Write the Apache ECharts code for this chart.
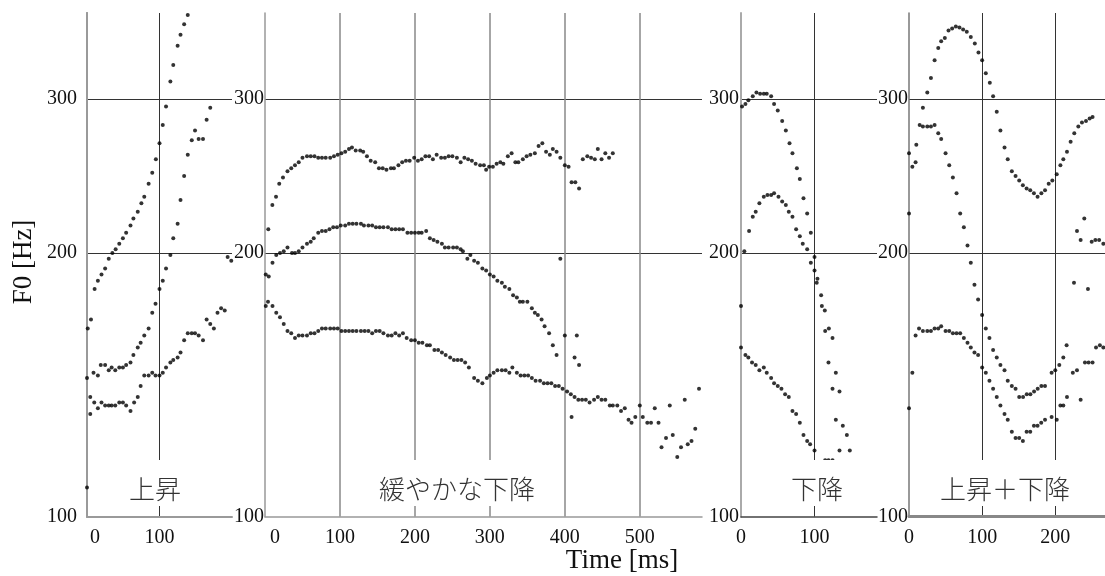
<!DOCTYPE html>
<html><head><meta charset="utf-8">
<script src="https://cdn.jsdelivr.net/npm/echarts@6/dist/echarts.min.js"></script>
<style>html,body{margin:0;padding:0;background:#fff}#c{width:1105px;height:576px}</style>
</head><body><div id="c"></div>
<script>
// ---- tick labels ----
const yTickLabels = [100, 200, 300];
const yGridValues = [200, 300];
const xTicksP1 = [0, 100];
const xTicksP2 = [0, 100, 200, 300, 400, 500];
const xTicksP3 = [0, 100];
const xTicksP4 = [0, 100, 200];
const panelTitles = ['上昇', '緩やかな下降', '下降', '上昇＋下降'];
const yTitle = 'F0 [Hz]';
const xTitle = 'Time [ms]';

// ---- data: [time ms, F0 Hz] ----
// Panel 1: 上昇
const p1A = [[1,164],[5.5,168],[10.5,182],[15,186],[20,189],[25,192],[30,197],[35,200],[39.5,202],[44.5,205],[49.5,208],[54,211],[60,215],[64,219],[70,223],[75,228],[79,232],[85,240],[90,247],[95,256],[100,267],[104.5,280],[109,294],[115,314],[119,328],[125,345],[129,355],[134,365],[139,374]];
const p1B = [[0,144],[9,146],[15,145],[19,149],[25,149],[30,147],[34,148],[39,147],[44.5,148],[49.5,148],[54,149],[60,150],[64,153],[70,156],[74,158],[79,161],[85,164],[90,171],[94.5,175],[100,182],[104.5,186],[109,192],[115,199],[119,208],[125,216],[129,230],[134,245],[139,259],[144.5,269],[149,276],[154,270],[160,270],[165,284],[170,293]];
const p1C = [[4.5,137],[4.5,131],[10,135],[15,133],[20,135],[25,134],[30,134],[34,134],[39,134],[44.5,135],[49.5,135],[54,134],[60,132],[65,135],[70,137],[74,141],[79,145],[85,145],[90,146],[94.5,145],[100,145],[104.5,146],[109,148],[115,150],[119,151],[125,152],[129,154],[134,159],[139,162],[144.5,162],[149,162],[154,161],[160,159],[165,168],[170,166],[175,164],[180,171],[185,173],[190,172]];
const p1X = [[0,108],[194,198],[199,196]];

// Panel 2: 緩やかな下降
const p2A = [[4.4,213],[9.8,227],[14.7,232],[19,240],[24,244],[30,248],[35,250],[40,252],[45,254],[50,257],[56,258],[61,258],[66,258],[71,257],[76,257],[81,257],[87,257],[92,258],[97,259],[102,260],[107,261],[112,263],[116,264],[121,262],[127,262],[131,261],[136,258],[141,255],[147,254],[152,250],[157,250],[162,249],[168,250],[172,250],[178,252],[183,254],[188,255],[193,255],[199,257],[204,255],[209,256],[214,258],[219,258],[224,256],[229,259],[235,257],[240,257],[245,258],[250,258],[256,257],[261,254],[266,257],[271,256],[276,255],[281,253],[287,252],[292,252],[295,249],[299,251],[304,251],[309,253],[314,254],[318,253],[324,258],[329,260],[334,254],[338,254],[344,256],[349,258],[354,259],[360,260],[365,265],[370,267],[375,261],[380,259],[384,263],[389,261],[394,257],[400,252],[405,251],[409,241],[414,241],[419,237],[424,256],[430,258],[435,257],[440,256],[444,263],[449,256],[454,260],[459,257],[464,260]];
const p2B = [[1,189],[5,188],[10,195],[15,199],[20,200],[25,201],[30,203],[36,200],[40,200],[45,201],[50,203],[56,205],[61,206],[65,208],[71,211],[76,212],[81,212],[86,213],[91,214],[96,214],[101,215],[107,215],[112,216],[117,216],[122,216],[128,216],[132,215],[138,215],[143,215],[148,214],[153,214],[158,214],[164,214],[169,213],[174,213],[179,213],[184,213],[190,211],[195,211],[200,211],[205,211],[209,211],[215,212],[220,208],[225,207],[230,206],[236,205],[240,203],[245,203],[251,203],[256,203],[261,202],[264,201],[270,197],[274,199],[279,196],[284,195],[290,192],[295,191],[300,189],[305,188],[310,186],[316,185],[320,183],[326,182],[331,179],[336,178],[340,176],[344,176],[350,176],[356,173],[360,171],[364,170],[369,168],[373,165],[379,162],[384,157],[389,153]];
const p2C = [[1,174],[4,176],[10,174],[15,171],[20,169],[25,166],[30,163],[35,162],[40,160],[45,161],[50,161],[56,161],[61,162],[66,162],[71,163],[76,164],[81,164],[87,164],[92,164],[97,164],[102,163],[107,163],[112,163],[117,163],[122,163],[128,163],[133,163],[138,163],[143,162],[148,163],[153,163],[158,162],[164,161],[169,161],[174,162],[179,161],[184,162],[189,160],[195,159],[200,159],[205,158],[210,158],[216,157],[220,157],[226,155],[231,155],[236,154],[241,153],[247,152],[252,151],[257,151],[262,151],[267,150],[272,148],[279,144],[284,143],[290,142],[296,144],[300,145],[305,146],[310,147],[316,147],[321,147],[326,146],[330,148],[336,146],[341,145],[346,145],[351,145],[356,144],[361,143],[367,143],[372,142],[377,142],[382,142],[387,141],[392,141],[397,140],[403,139],[408,138],[413,137],[418,136],[423,136],[428,136],[433,135],[439,136],[444,137],[449,136],[454,136],[460,134],[464,134],[470,134],[475,132],[480,133],[485,129],[489,128],[494,130],[500,134],[504,130],[510,128],[515,128],[520,133],[525,128],[529,120],[535,123],[540,134],[544,124],[550,117],[555,120],[560,136],[564,121],[569,122],[574,126],[579,140]];
const p2X = [[394,197],[400,161],[416,161],[413,152],[419,149],[409,130]];

// Panel 3: 下降
const p3A = [[1.4,294],[6,296],[10,299],[16,302],[21,305],[26,304],[31,304],[35,304],[41,302],[45,296],[50,291],[56,283],[61,276],[66,267],[70,260],[76,250],[80,243],[85,231],[90,222],[95,211],[100,198],[104,187],[110,174],[114.5,163],[119.5,164],[124.5,160],[129,146],[134,139],[138.5,127],[144,124],[148,119]];
const p3B = [[4.5,201],[11,212],[16,220],[20,223],[25,228],[31,232],[36,233],[41,233],[45,234],[51,232],[56,229],[61,227],[65,223],[70,220],[75,213],[80,209],[84,205],[90,202],[95,195],[100,191],[103,185],[109,179],[114,172],[119,150],[124.5,140],[129,129],[134,119]];
const p3C = [[0,174],[0,156],[6,153],[10,152],[15,150],[20,149],[25,147],[31,148],[35,146],[41,144],[45,142],[50,141],[55,140],[60,138],[65,137],[70,132],[75,131],[80,128],[85,124],[90,122],[94,121],[100,119],[114.5,116],[119,116],[124.5,116]];

// Panel 4: 上昇＋下降
const p4A = [[0,260],[10,266],[14.6,280],[19,293],[25,305],[30,317],[35,332],[40,343],[44,349],[49,352],[54,359],[59,361],[64,363],[69,362],[74,360],[79,358],[84.5,353],[90,347],[95,339],[100,332],[105,321],[110.5,313],[115,302],[120,290],[125,276],[130.6,264],[135,256],[140.6,248],[145.7,245],[150.7,242],[155.7,239],[160.8,237],[165.8,236],[170.8,234],[175.8,232],[181,234],[186,236],[191,240],[196,242],[202,246],[207,252],[211,256],[216,261],[221,268],[226,274],[231.5,279],[236.5,282],[242,283],[247,285],[251,286]];
const p4B = [[4.6,251],[9,254],[19,279],[25,279],[30,279],[35,280],[40,274],[44,270],[50,260],[55,252],[60,244],[65,234],[70,222],[75,214],[80,204],[84.5,195],[89.5,184],[94.5,177],[100,170],[105,164],[110,160],[115,155],[120,152],[125,149],[130.6,147],[135,143],[140.6,141],[145.7,140],[150.7,137],[156,137],[161,138],[166,138],[171,139],[176,140],[181,141],[186,141],[195,146],[200,147],[205.5,149],[211,152],[215.5,157]];
const p4C = [[0,133],[4.6,146],[9,161],[13.7,164],[19,163],[25,163],[30,163],[35,164],[40,164],[44,165],[50,163],[55,163],[60,162],[65,162],[70,162],[75,160],[80,158],[84.5,156],[89.5,154],[94.5,153],[100,148],[105,146],[110,143],[115,140],[120,137],[125,134],[130.6,131],[135,129],[140.6,125],[145.7,123],[150.7,123],[155.7,122],[160.8,125],[165.8,125],[170.8,127],[175.8,127],[180.8,128],[186,129],[195,130],[202,129],[207,134],[211,134],[216,137]];
const p4X = [[0,222],[224,146],[229.7,147],[234.7,136],[240.6,150],[245.6,150],[251,150],[255.7,156],[261,157],[265.7,156],[229.7,212],[234.7,207],[239.7,219],[225.6,185],[244.7,182],[249.8,206],[254.8,207],[260,207],[265.7,205]];

// ---- layout / style ----
const SERIF = "'Liberation Serif','Times New Roman',serif";
const CJK = "'Noto Sans CJK JP',sans-serif";
const TOP = 13, H = 503.7, FS = 20;
const panels = [
  {left:87, width:145, xmax:200, ticks:xTicksP1, series:[p1A,p1B,p1C,p1X], vCol:'#333', vW:1, yLine:'#9a9a9a', yLineW:2, xLine:'#9a9a9a', xLineW:2, yMargin:10, yPad:[0,0,0,0], zeroPad:16, title:{cx:155, x0:120, x1:200}},
  {left:265, width:437, xmax:583, ticks:xTicksP2, series:[p2A,p2B,p2C,p2X], vCol:'#888', vW:1.5, yLine:'#999', yLineW:1.5, xLine:'#999', xLineW:1.5, yMargin:1, yPad:[8,0,0,0], zeroPad:20, title:{cx:457, x0:370, x1:545}},
  {left:741, width:136, xmax:185, ticks:xTicksP3, series:[p3A,p3B,p3C], vCol:'#333', vW:1, yLine:'#aaa', yLineW:2, xLine:'#444', xLineW:1.5, yMargin:2, yPad:[8,0,0,0], zeroPad:0, title:{cx:817, x0:785, x1:850}},
  {left:909, width:196, xmax:268, ticks:xTicksP4, series:[p4A,p4B,p4C,p4X], vCol:'#333', vW:1, yLine:'#777', yLineW:1.5, xLine:'#888', xLineW:3, yMargin:1, yPad:[8,0,0,0], zeroPad:0, title:{cx:1005, x0:930, x1:1080}}
];

const grid = [], xAxis = [], yAxis = [], series = [], graphic = [];
panels.forEach((p, i) => {
  grid.push({left:p.left, top:TOP, width:p.width, height:H, containLabel:false});
  const zp = p.zeroPad;
  xAxis.push({
    type:'value', gridIndex:i, min:0, max:p.xmax,
    axisLine:{show:true, onZero:false, lineStyle:{color:p.xLine, width:p.xLineW}},
    axisTick:{show:false, customValues:p.ticks.filter(v => v > 0)},
    axisLabel:{customValues:p.ticks, margin:11, fontFamily:SERIF, fontSize:FS, color:'#111',
      formatter: v => (v === 0 && zp) ? '{z|0}' : String(v),
      rich:{z:{padding:[0,0,0,zp], fontFamily:SERIF, fontSize:FS, color:'#111'}}},
    splitLine:{show:true, lineStyle:{color:p.vCol, width:p.vW}}
  });
  yAxis.push({
    type:'log', logBase:10, gridIndex:i, min:100, max:376,
    axisLine:{show:true, onZero:false, lineStyle:{color:p.yLine, width:p.yLineW}},
    axisTick:{show:false, customValues:yGridValues},
    axisLabel:{customValues:yTickLabels, margin:p.yMargin, fontFamily:SERIF, fontSize:FS, color:'#111', padding:p.yPad},
    splitLine:{show:true, lineStyle:{color:'#333', width:1}}
  });
  p.series.forEach(d => series.push({
    type:'scatter', xAxisIndex:i, yAxisIndex:i, data:d, symbolSize:4,
    itemStyle:{color:'#000'}, silent:true
  }));
  graphic.push({type:'rect', z:50, shape:{x:p.title.x0, y:460, width:p.title.x1 - p.title.x0, height:46}, style:{fill:'#fff'}});
  graphic.push({type:'text', z:51, x:p.title.cx, y:489, style:{text:panelTitles[i], font:"300 26px " + CJK, fill:'#333', align:'center', verticalAlign:'middle'}});
});
// right border of panel 1
yAxis.push({type:'log', gridIndex:0, position:'right', min:100, max:376,
  axisLine:{show:true, lineStyle:{color:'#9a9a9a', width:2}}, axisTick:{show:false}, axisLabel:{show:false}, splitLine:{show:false}});

graphic.push({type:'text', z:51, x:24, y:262, rotation:Math.PI/2, style:{text:yTitle, font:"27px " + SERIF, fill:'#111', align:'center', verticalAlign:'middle'}});
graphic.push({type:'text', z:51, x:622, y:561, style:{text:xTitle, font:"27px " + SERIF, fill:'#111', align:'center', verticalAlign:'middle'}});

const chart = echarts.init(document.getElementById('c'), null, {renderer:'canvas'});
chart.setOption({animation:false, backgroundColor:'#fff', grid, xAxis, yAxis, series, graphic});
</script></body></html>
